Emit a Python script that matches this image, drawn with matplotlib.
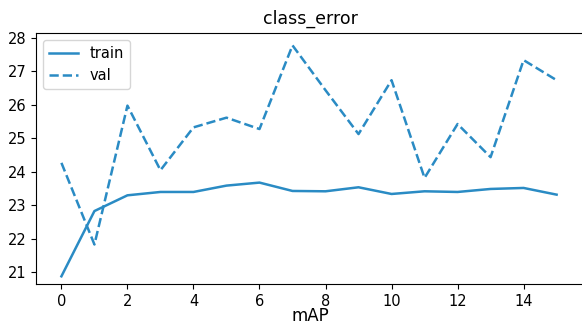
import matplotlib
matplotlib.use("Agg")
import matplotlib.pyplot as plt

epochs = list(range(16))
train = [20.88, 22.83, 23.30, 23.40, 23.40, 23.59, 23.68, 23.43, 23.42, 23.54, 23.34, 23.42, 23.40, 23.49, 23.52, 23.32]
val = [24.27, 21.83, 25.98, 24.05, 25.33, 25.62, 25.28, 27.78, 26.44, 25.13, 26.74, 23.82, 25.43, 24.44, 27.34, 26.74]

color = '#2a8bc4'

fig = plt.figure(figsize=(5.82, 3.27), dpi=100)
ax = fig.add_axes([36/582, 1-284/327, 548/582, (284-33)/327])
ax.plot(epochs, train, color=color, linestyle='-', lw=1.8, label='train')
ax.plot(epochs, val, color=color, linestyle='--', lw=1.8, label='val')
ax.set_xlim(-0.77, 15.83)
ax.set_ylim(20.65, 28.15)
ax.set_xticks(range(0, 16, 2))
ax.set_yticks(range(21, 29))
ax.tick_params(labelsize=10.5)
ax.set_title('class_error', fontsize=12.5, pad=7)
ax.set_xlabel('mAP', fontsize=12, labelpad=-1)
ax.legend(loc='upper left', fontsize=10.5)
fig.savefig('out.png', dpi=100)
